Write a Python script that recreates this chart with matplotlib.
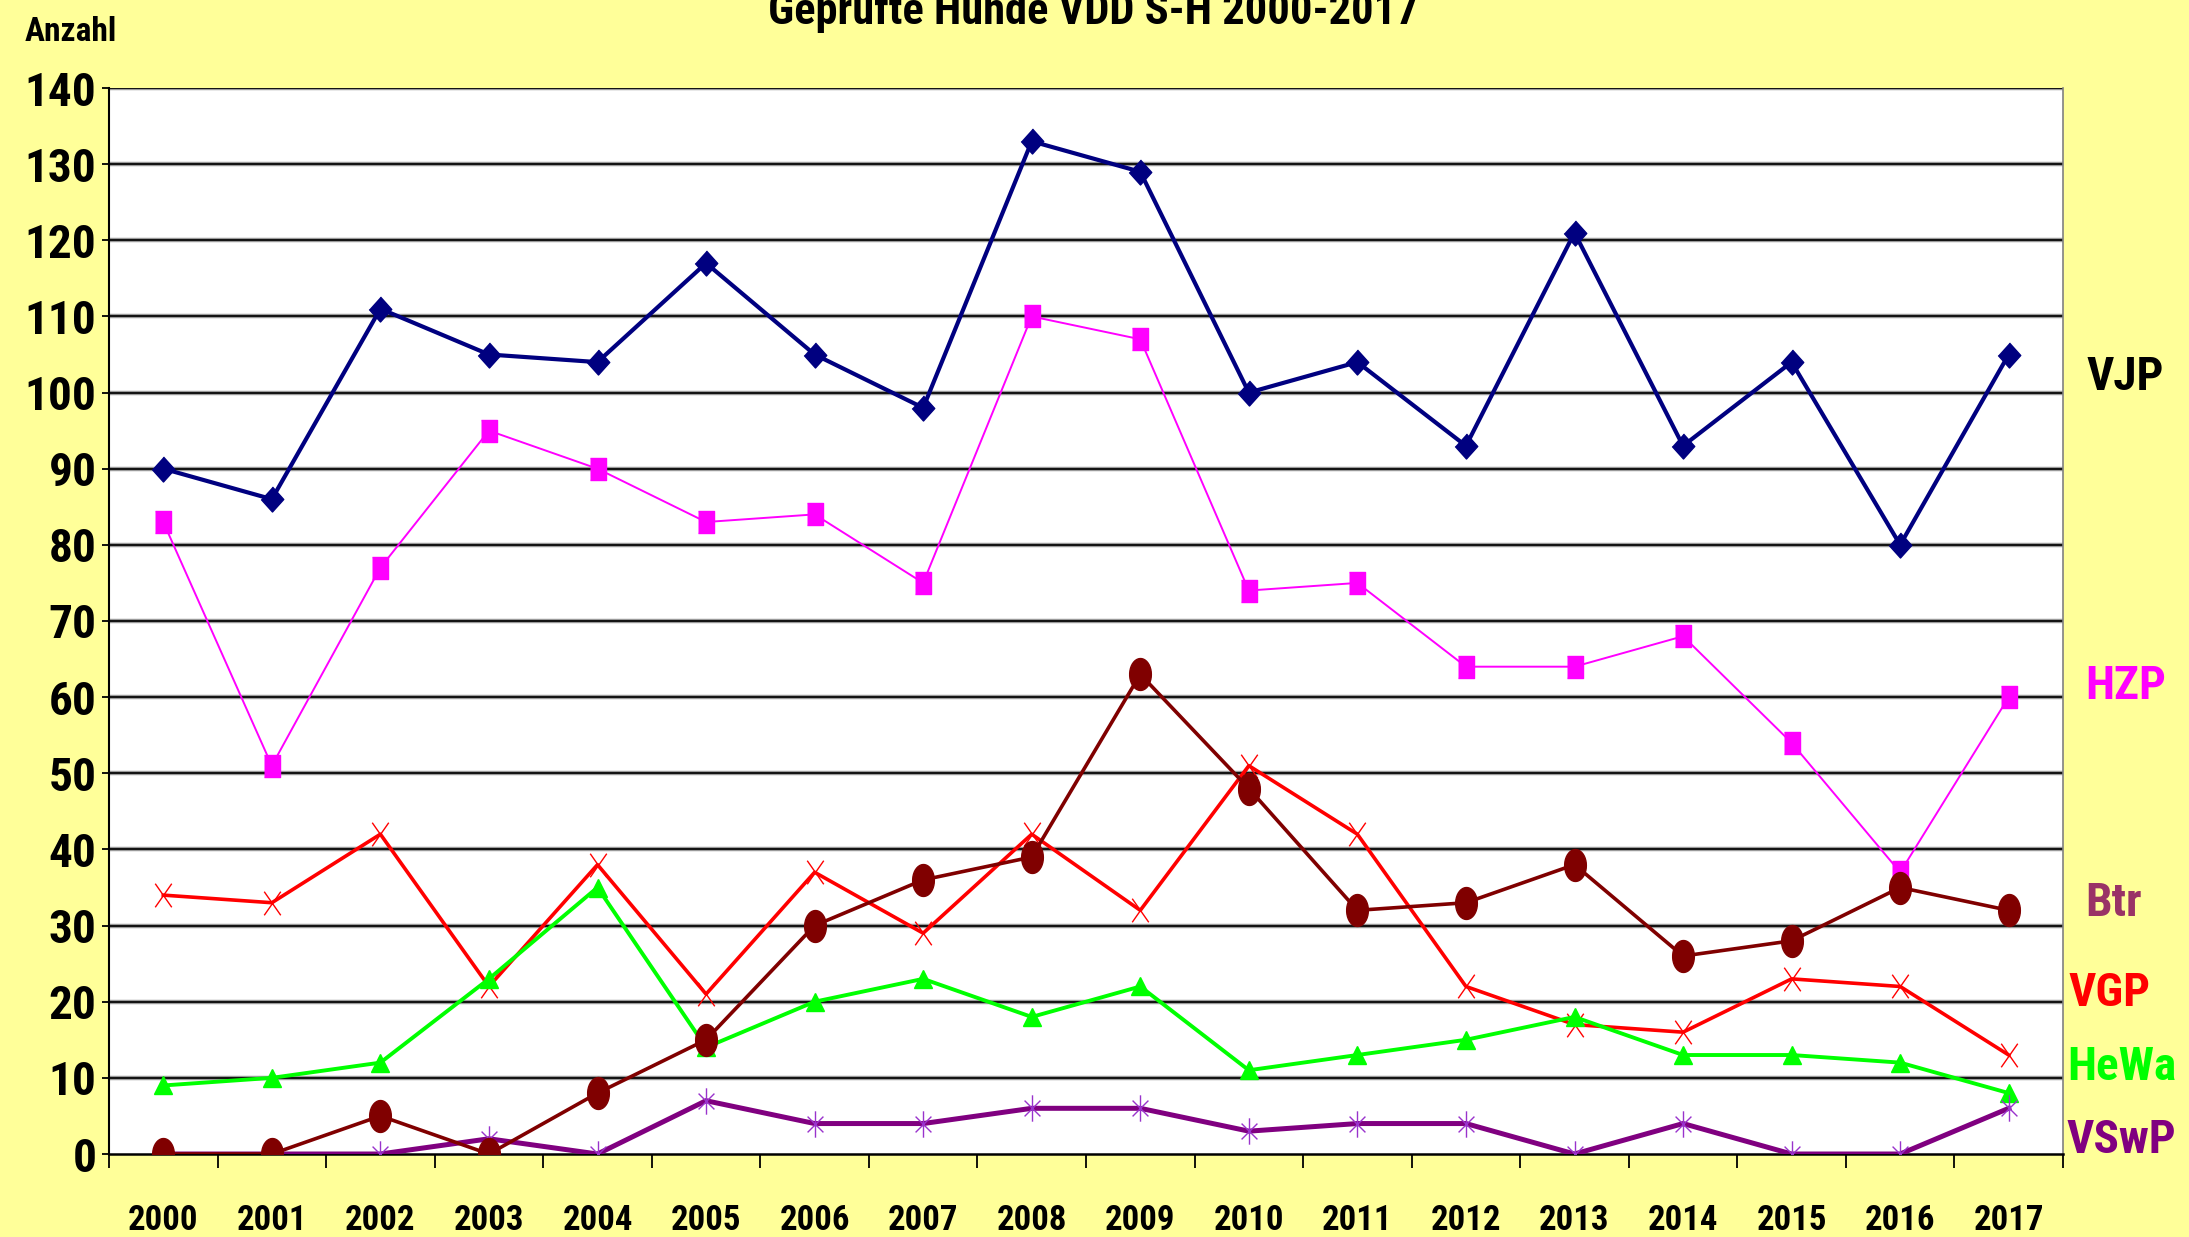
import numpy as np
import matplotlib
matplotlib.use('Agg')
import matplotlib.pyplot as plt
from matplotlib.path import Path
from matplotlib import font_manager

# pick a condensed face if one is installed
names = {f.name for f in font_manager.fontManager.ttflist}
FONT = [n for n in ['Liberation Sans Narrow', 'Roboto Condensed', 'DejaVu Sans Condensed',
                    'Open Sans Condensed', 'Liberation Sans'] if n in names] + ['DejaVu Sans']
NARROW = FONT[0] != 'Liberation Sans'
plt.rcParams['font.family'] = FONT
plt.rcParams['font.stretch'] = 'condensed'

# ── Data ──────────────────────────────────────────────────────────────────────
YEARS = [str(y) for y in range(2000, 2018)]
VJP  = [90, 86, 111, 105, 104, 117, 105, 98, 133, 129, 100, 104, 93, 121, 93, 104, 80, 105]
HZP  = [83, 51, 77, 95, 90, 83, 84, 75, 110, 107, 74, 75, 64, 64, 68, 54, 37, 60]
VGP  = [34, 33, 42, 22, 38, 21, 37, 29, 42, 32, 51, 42, 22, 17, 16, 23, 22, 13]
HEWA = [9, 10, 12, 23, 35, 14, 20, 23, 18, 22, 11, 13, 15, 18, 13, 13, 12, 8]
VSWP = [0, 0, 0, 2, 0, 7, 4, 4, 6, 6, 3, 4, 4, 0, 4, 0, 0, 6]
BTR  = [0, 0, 5, 0, 8, 15, 30, 36, 39, 63, 48, 32, 33, 38, 26, 28, 35, 32]

# ── Custom (vertically stretched) markers ───────────────────────────────────────
t = np.linspace(0, 2 * np.pi, 40)
M_ELLIPSE = list(zip(0.68 * np.cos(t), np.sin(t)))
M_DIAMOND = [(0, 1), (0.9, 0), (0, -1), (-0.9, 0)]
M_RECT    = [(-0.75, -1), (0.75, -1), (0.75, 1), (-0.75, 1)]
M_CROSS   = Path([(-0.7, -1), (0.7, 1), (-0.7, 1), (0.7, -1)],
                 [Path.MOVETO, Path.LINETO, Path.MOVETO, Path.LINETO])
M_STAR    = Path([(0, -1), (0, 1), (-0.6, -0.6), (0.6, 0.6), (-0.6, 0.6), (0.6, -0.6)],
                 [Path.MOVETO, Path.LINETO, Path.MOVETO, Path.LINETO, Path.MOVETO, Path.LINETO])

BG = '#FFFF99'
fig = plt.figure(figsize=(21.89, 12.37), dpi=100, facecolor=BG)
ax = fig.add_axes([109 / 2189, 1 - 1154 / 1237, (2063 - 109) / 2189, (1154 - 88) / 1237])
ax.set_facecolor('white')

x = np.arange(len(YEARS))

ax.plot(x, VJP, color='#000080', lw=3.0, marker=M_DIAMOND, ms=18, zorder=3)
ax.plot(x, HZP, color='#FF00FF', lw=1.4, marker=M_RECT, ms=16, zorder=3)
ax.plot(x, VGP, color='#FF0000', lw=2.6, marker=M_CROSS, ms=17, mew=1,
        mfc='none', mec='#FF0000', zorder=4)
ax.plot(x, HEWA, color='#00FF00', lw=2.8, marker='^', ms=13, zorder=4)
ax.plot(x, VSWP, color='#800080', lw=3.6, marker=M_STAR, ms=19, mew=1,
        mec='#9933CC', zorder=5)
ax.plot(x, BTR, color='#800000', lw=2.6, marker=M_ELLIPSE, ms=23, zorder=6)

# font sizes depend on whether a narrow face was found
S_TICK_Y = 34 if NARROW else 27
S_TICK_X = 25 if NARROW else 21
S_TITLE  = 32 if NARROW else 25
S_ANZ    = 24 if NARROW else 19
S_SER    = 34 if NARROW else 27

# ── Axes styling ──────────────────────────────────────────────────────────────
ax.set_xlim(-0.5, len(YEARS) - 0.5)
ax.set_ylim(0, 140)
ax.set_yticks(range(0, 141, 10))
ax.set_xticks(x)
ax.set_xticklabels(YEARS)
ax.set_xticks(np.arange(-0.5, len(YEARS), 1), minor=True)
ax.tick_params(axis='x', which='major', length=0, pad=36, labelsize=S_TICK_X)
ax.tick_params(axis='x', which='minor', length=10, width=1.3, color='black', direction='out')
ax.tick_params(axis='y', length=5, width=1.3, pad=4, labelsize=S_TICK_Y)
for lbl in ax.get_xticklabels() + ax.get_yticklabels():
    lbl.set_fontweight('bold')

for yv in range(10, 141, 10):
    ax.axhline(yv, color='#9a9a9a', lw=3.2, zorder=1)
    ax.axhline(yv, color='#111111', lw=1.4, zorder=1)

ax.spines['top'].set_visible(False)
ax.spines['right'].set_color('#808080')
ax.spines['right'].set_linewidth(1.2)
ax.spines['left'].set_linewidth(1.5)
ax.spines['bottom'].set_linewidth(1.8)

# ── Texts ─────────────────────────────────────────────────────────────────────
fig.text(1093 / 2189, 1 - 24 / 1237, 'Geprüfte Hunde VDD S-H 2000-2017',
         ha='center', va='baseline', fontsize=S_TITLE, fontweight='bold')
fig.text(25 / 2189, 1 - 41 / 1237, 'Anzahl', ha='left', va='baseline',
         fontsize=S_ANZ, fontweight='bold')

LABELS = [('VJP', 2087, 377, 'black'), ('HZP', 2085, 686, '#FF00FF'),
          ('Btr', 2085, 903, '#993366'), ('VGP', 2069, 993, '#FF0000'),
          ('HeWa', 2067, 1067, '#00FF00'), ('VSwP', 2067, 1140, '#800080')]
for txt, px, py, col in LABELS:
    fig.text(px / 2189, 1 - py / 1237, txt, ha='left', va='center',
             fontsize=S_SER, fontweight='bold', color=col)

fig.savefig('out.png', dpi=100, facecolor=BG)
